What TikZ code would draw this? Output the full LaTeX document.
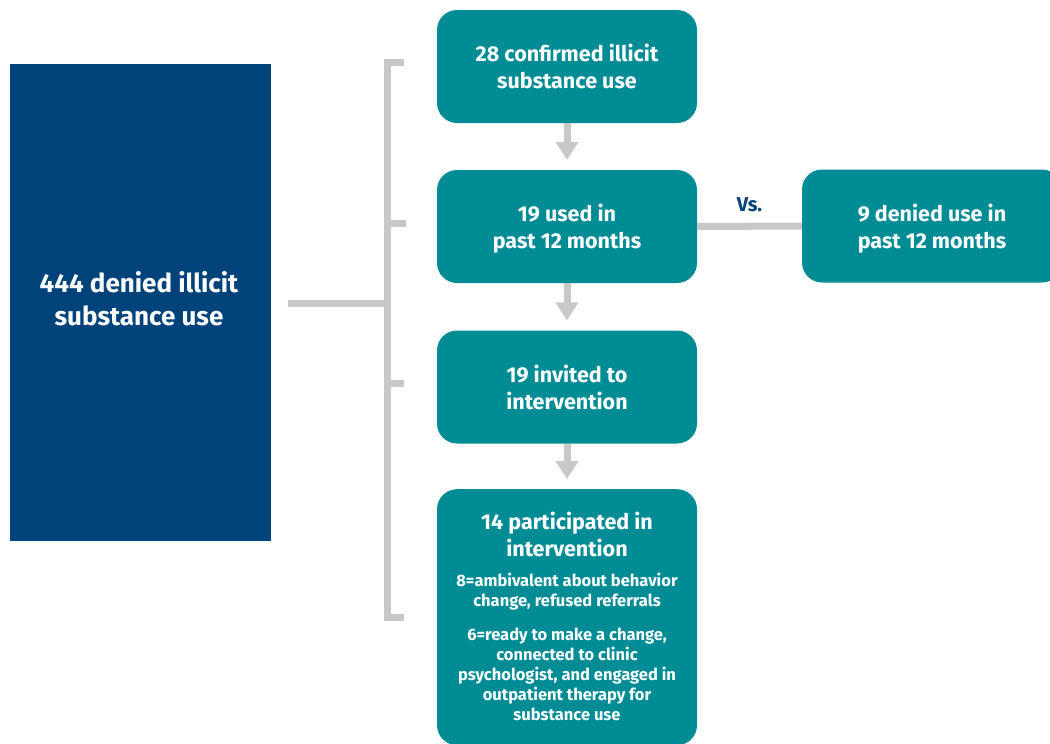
\documentclass[tikz,border=0pt]{standalone}
\usepackage{fontspec}
\setmainfont{Fira Sans}
\usetikzlibrary{arrows.meta}
\definecolor{teal1}{HTML}{008C95}
\definecolor{navy1}{HTML}{00427A}
\definecolor{gray1}{HTML}{C8C8C8}
\begin{document}
\begin{tikzpicture}[x=1pt,y=-1pt,
  box/.style={fill=teal1, rounded corners=20pt, minimum width=260pt, minimum height=113pt,
    text=white, font=\bfseries\fontsize{21.5}{27}\selectfont, align=center, inner sep=0pt},
  boxtext/.style={text=white, font=\bfseries\fontsize{21.5}{27}\selectfont, align=center, inner sep=0pt},
  flow/.style={draw=gray1, line width=7pt, shorten >=10pt, -{Triangle[width=22pt,length=18pt]}},
  bracket/.style={draw=gray1, line width=7pt, line join=miter},
  small/.style={text=white, font=\bfseries\fontsize{16.5}{20}\selectfont, align=center, inner sep=0pt}
]
\useasboundingbox (0,0) rectangle (1050,744);
\node[fill=navy1, minimum width=261pt, minimum height=477pt, inner sep=0pt] (left) at (140.5,302.5) {};
\node[text=white, font=\bfseries\fontsize{26}{33}\selectfont, align=center, inner sep=0pt] (lefttext) at (139,298.5)
  {444 denied illicit\\substance use};
\node[box] (b1) at (567,66.5) {28 confirmed illicit\\substance use};
\node[box] (b2) at (567,226.5) {};
\node[boxtext] (t2) at (567,228.5) {19 used in\\past 12 months};
\node[box] (b3) at (567,387) {19 invited to\\intervention};
\node[box, minimum height=256pt, anchor=north] (b4) at (567,489) {};
\node[boxtext, anchor=north] (t4a) at (567,512) {14 participated in\\intervention};
\node[small, anchor=north] (t4b) at (567,573) {8=ambivalent about behavior\\change, refused referrals};
\node[small, anchor=north] (t4c) at (567,628) {6=ready to make a change,\\connected to clinic\\psychologist, and engaged in\\outpatient therapy for\\substance use};
\node[box] (b5) at (932,226) {};
\node[boxtext] (t5) at (932,228.5) {9 denied use in\\past 12 months};
\draw[flow] (b1.south) -- (b2.north);
\draw[flow] (b2.south) -- (b3.north);
\draw[flow] (b3.south) -- (b4.north);
\draw[draw=gray1, line width=7pt] (b2.east) -- (b5.west) node[midway, above=8pt, text=navy1, font=\bfseries\fontsize{20}{22}\selectfont] (vs) {Vs.};
\coordinate (k1) at (404,62.5);
\coordinate (k2) at (406,223.5);
\coordinate (k3) at (404,383);
\coordinate (k4) at (404,617);
\coordinate (sp) at (387,303.5);
\coordinate (lf) at (288,303.5);
\draw[bracket] (k1) -- (k1 -| sp) -- (k4 -| sp) -- (k4);
\draw[bracket] (k2 -| sp) -- (k2);
\draw[bracket] (k3 -| sp) -- (k3);
\draw[bracket] (lf) -- (sp);
\end{tikzpicture}
\end{document}
